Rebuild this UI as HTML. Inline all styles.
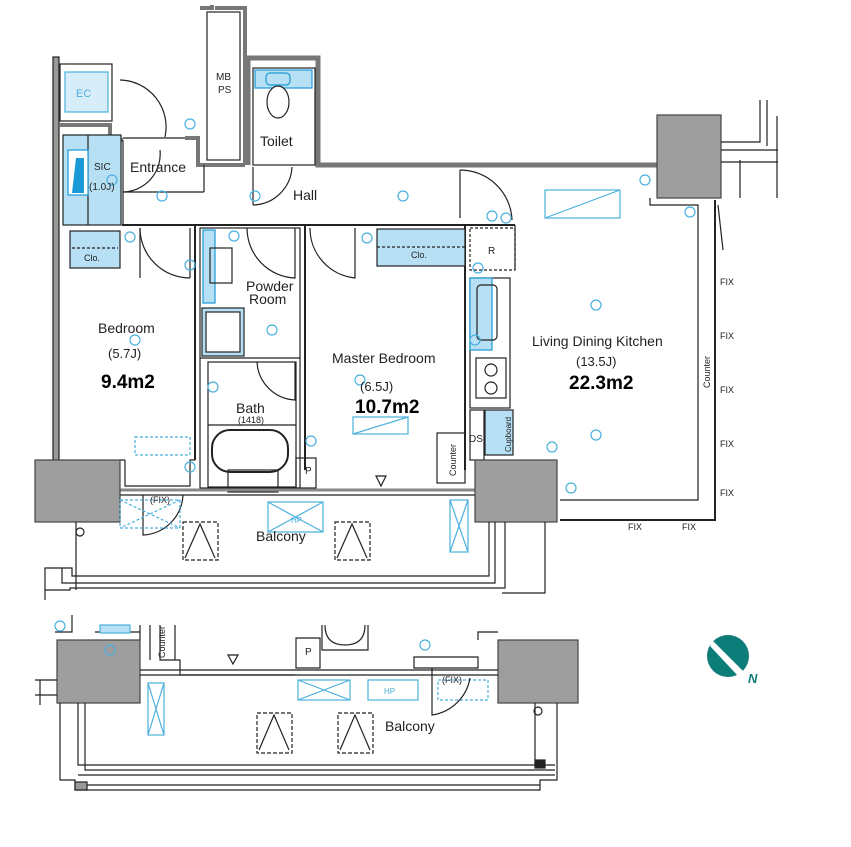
<!DOCTYPE html>
<html><head><meta charset="utf-8"><style>
html,body{margin:0;padding:0;background:#fff;}
svg{display:block;}
text{font-family:"Liberation Sans",sans-serif;fill:#222;}
</style></head><body>
<svg width="851" height="847" viewBox="0 0 851 847" xmlns="http://www.w3.org/2000/svg">
<g fill="none" stroke="#222" stroke-width="1.2">
<!-- outer left wall -->
<rect x="53" y="57" width="6" height="410" fill="#999" stroke="#222"/>
<!-- EC -->
<rect x="60" y="64" width="52" height="57"/>
<rect x="65" y="72" width="43" height="40" fill="#d7eef8" stroke="#4bb0dd"/>
<!-- entrance top wall -->
<path d="M59 125 H110 V140 H123" stroke-width="4" stroke="#777"/>
<line x1="123" y1="138" x2="185" y2="138"/>
<path d="M185 138 H198 V165 H245" stroke-width="4" stroke="#777"/>
<!-- MB PS -->
<path d="M200 8 H212 V5 M245 165 V8 H215" stroke-width="4" stroke="#777"/>
<rect x="207" y="12" width="33" height="148"/>
<!-- Toilet -->
<path d="M248 165 V58 H318 V165 H658" stroke-width="5" stroke="#777"/>
<rect x="253" y="68" width="62" height="97"/>
<rect x="255" y="70" width="57" height="18" fill="#b8e0f4" stroke="#1a9ad6"/>
<ellipse cx="278" cy="102" rx="11" ry="16" fill="#fff"/>
<rect x="266" y="73" width="24" height="12" rx="4" fill="#b8e0f4" stroke="#1a9ad6"/>
<!-- right column -->
<rect x="657" y="115" width="64" height="83" fill="#9e9e9e" stroke="#444"/>
<path d="M721 162 H778 M721 150 H778 M721 142 H760 V100 M767 100 V146 M777 116 V198 M740 198 V160"/>
<!-- SIC -->
<rect x="63" y="135" width="58" height="90" fill="#b8e0f4" stroke="#222"/>
<line x1="88" y1="135" x2="88" y2="225"/>
<rect x="68" y="150" width="20" height="45" fill="#fff" stroke="#1a9ad6"/>
<polygon points="76,158 84,158 84,193 72,193" fill="#1a9ad6" stroke="none"/>
<!-- Clo left -->
<rect x="70" y="231" width="50" height="37" fill="#b8e0f4"/>
<line x1="72" y1="248" x2="118" y2="248" stroke-dasharray="3,2"/>
<!-- hall lower wall -->
<line x1="122" y1="225" x2="515" y2="225" stroke-width="2"/>
<line x1="123" y1="140" x2="123" y2="225"/>
<line x1="123" y1="192" x2="204" y2="192"/>
<line x1="204" y1="165" x2="204" y2="192"/>
<!-- Entrance door arc -->
<path d="M120 80 A47 47 0 0 1 165 137"/>
<path d="M123 192 A38 38 0 0 0 160 150"/>
<!-- hall toilet door -->
<line x1="253" y1="167" x2="253" y2="205"/>
<path d="M253 205 A40 40 0 0 0 292 167"/>
<!-- Bedroom -->
<line x1="195" y1="225" x2="195" y2="460" stroke-width="2"/>
<line x1="140" y1="228" x2="140" y2="278"/>
<path d="M140 228 A50 50 0 0 0 190 278"/>
<line x1="190" y1="228" x2="190" y2="278"/>
<!-- powder / bath column -->
<rect x="200" y="228" width="100" height="260"/>
<rect x="203" y="230" width="12" height="73" fill="#b8e0f4" stroke="#1a9ad6"/>
<rect x="210" y="248" width="22" height="35"/>
<rect x="202" y="308" width="42" height="48" fill="#b8e0f4"/>
<rect x="206" y="312" width="34" height="40" fill="#fff"/>
<line x1="200" y1="358" x2="300" y2="358"/>
<path d="M247 228 A50 50 0 0 0 295 278 V228"/>
<rect x="208" y="362" width="88" height="125"/>
<line x1="208" y1="425" x2="296" y2="425"/>
<rect x="212" y="430" width="76" height="42" rx="18" stroke-width="2"/>
<path d="M257 362 A40 40 0 0 0 295 400 V362"/>
<rect x="228" y="470" width="50" height="22"/>
<rect x="296" y="458" width="20" height="30"/>
<!-- Master bedroom -->
<line x1="305" y1="225" x2="305" y2="470" stroke-width="2"/>
<line x1="465" y1="225" x2="465" y2="470" stroke-width="2"/>
<path d="M310 228 A50 50 0 0 0 355 278 V228"/>
<rect x="377" y="229" width="88" height="37" fill="#b8e0f4"/>
<line x1="377" y1="247" x2="465" y2="247" stroke-dasharray="3,2"/>
<rect x="437" y="433" width="28" height="50"/>
<!-- kitchen column -->
<rect x="470" y="228" width="45" height="42" stroke-dasharray="3,2"/>
<rect x="470" y="278" width="40" height="130"/>
<rect x="470" y="278" width="22" height="72" fill="#b8e0f4" stroke="#1a9ad6"/>
<rect x="477" y="285" width="20" height="55" rx="4"/>
<rect x="476" y="358" width="30" height="40"/>
<circle cx="491" cy="370" r="6"/><circle cx="491" cy="388" r="6"/>
<rect x="485" y="410" width="28" height="45" fill="#b8e0f4"/>
<rect x="470" y="410" width="14" height="50"/>
<!-- LDK -->
<line x1="515" y1="225" x2="515" y2="270"/>
<line x1="460" y1="170" x2="460" y2="218"/>
<path d="M460 170 A52 52 0 0 1 512 220"/>
<path d="M650 198 V205 H698 V500 H560" />
<path d="M715 200 V520 H560" stroke-width="2"/>
<line x1="718" y1="205" x2="723" y2="250"/>
<!-- bottom wall -->
<line x1="118" y1="490" x2="475" y2="490" stroke-width="3" stroke="#888"/>
<line x1="118" y1="495" x2="475" y2="495"/>
<path d="M118 460 V490 M120 460 H125"/>
<path d="M125 460 V486 H190 V460 H195"/>
<!-- gray columns -->
<rect x="35" y="460" width="85" height="62" fill="#9e9e9e" stroke="#444"/>
<rect x="475" y="460" width="82" height="62" fill="#9e9e9e" stroke="#444"/>
<!-- balcony -->
<path d="M143 495 V535 A42 42 0 0 0 183 495"/>
<path d="M45 600 V568 H62 V583 H495 V522 M62 568 H72 V576 H489 V522 M45 590 H70 V588 H505 V522 M545 522 V593 H502"/>
<line x1="76" y1="522" x2="76" y2="590"/>
<circle cx="80" cy="532" r="4"/>
<rect x="120" y="500" width="60" height="28" stroke="#4bb0dd" stroke-dasharray="3,2"/>
<path d="M120 500 L180 528 M180 500 L120 528" stroke="#4bb0dd" stroke-dasharray="3,2"/>
<rect x="268" y="502" width="55" height="30" stroke="#4bb0dd"/>
<path d="M268 502 L323 532 M323 502 L268 532" stroke="#4bb0dd"/>
<rect x="450" y="500" width="18" height="52" stroke="#4bb0dd"/>
<path d="M450 500 L468 552 M468 500 L450 552" stroke="#4bb0dd"/>
<rect x="183" y="522" width="35" height="38" stroke-dasharray="4,2"/>
<path d="M185 558 L200 524 L215 558"/>
<rect x="335" y="522" width="35" height="38" stroke-dasharray="4,2"/>
<path d="M337 558 L352 524 L367 558"/>
<rect x="135" y="437" width="55" height="18" stroke="#4bb0dd" stroke-dasharray="3,2"/>
<rect x="353" y="417" width="55" height="17" stroke="#4bb0dd"/>
<line x1="353" y1="434" x2="408" y2="417" stroke="#4bb0dd"/>
<rect x="545" y="190" width="75" height="28" stroke="#4bb0dd"/>
<line x1="545" y1="218" x2="620" y2="190" stroke="#4bb0dd"/>
<polygon points="376,476 386,476 381,486"/>
<!-- small circles -->
<g stroke="#4bb0dd">
<circle cx="190" cy="124" r="5"/><circle cx="162" cy="196" r="5"/><circle cx="255" cy="196" r="5"/><circle cx="403" cy="196" r="5"/><circle cx="190" cy="265" r="5"/><circle cx="272" cy="330" r="5"/><circle cx="112" cy="180" r="5"/><circle cx="130" cy="237" r="5"/><circle cx="135" cy="340" r="5"/><circle cx="360" cy="380" r="5"/><circle cx="596" cy="305" r="5"/><circle cx="596" cy="435" r="5"/><circle cx="645" cy="180" r="5"/><circle cx="690" cy="212" r="5"/><circle cx="571" cy="488" r="5"/><circle cx="552" cy="447" r="5"/><circle cx="478" cy="268" r="5"/><circle cx="311" cy="441" r="5"/><circle cx="190" cy="467" r="5"/><circle cx="213" cy="387" r="5"/><circle cx="492" cy="216" r="5"/><circle cx="506" cy="218" r="5"/><circle cx="367" cy="238" r="5"/><circle cx="234" cy="236" r="5"/><circle cx="475" cy="340" r="5"/>
</g>
<!-- lower balcony -->
<rect x="57" y="640" width="83" height="63" fill="#9e9e9e" stroke="#444"/>
<rect x="498" y="640" width="80" height="63" fill="#9e9e9e" stroke="#444"/>
<path d="M55 632 H72 V615 M140 632 H95 M140 625 V640 M160 625 V660 H180 V675 H295"/>
<path d="M140 670 H498 M140 675 H498" />
<rect x="100" y="625" width="30" height="8" fill="#b8e0f4" stroke="#4bb0dd"/>
<path d="M296 638 H320 V668 H296 Z"/>
<path d="M322 625 V650 H368 V625 M325 625 Q325 645 345 645 Q365 645 365 625"/>
<path d="M414 657 H478 V668 H414 Z"/>
<path d="M478 640 V632 H498"/>
<path d="M35 680 H57 M35 695 H57 M40 705 V680"/>
<path d="M60 703 V780 H75 V790 H540 V780 H557 V703 M78 703 V765 H555 M85 703 V770 H555"/>
<path d="M78 775 H555 M78 785 H540"/>
<rect x="75" y="782" width="12" height="8" fill="#999"/>
<rect x="535" y="760" width="10" height="8" fill="#222"/>
<line x1="535" y1="703" x2="535" y2="765"/>
<circle cx="538" cy="711" r="4"/>
<rect x="148" y="683" width="16" height="52" stroke="#4bb0dd"/>
<path d="M148 683 L164 735 M164 683 L148 735" stroke="#4bb0dd"/>
<rect x="298" y="680" width="52" height="20" stroke="#4bb0dd"/>
<path d="M298 680 L350 700 M350 680 L298 700" stroke="#4bb0dd"/>
<rect x="368" y="680" width="50" height="20" stroke="#4bb0dd"/>
<rect x="438" y="680" width="50" height="20" stroke="#4bb0dd" stroke-dasharray="3,2"/>
<path d="M432 668 V715 A45 45 0 0 0 470 678"/>
<rect x="257" y="713" width="35" height="40" stroke-dasharray="4,2"/>
<path d="M259 750 L274 715 L289 750"/>
<rect x="338" y="713" width="35" height="40" stroke-dasharray="4,2"/>
<path d="M340 750 L355 715 L370 750"/>
<polygon points="228,655 238,655 233,664"/>
<line x1="150" y1="625" x2="150" y2="660"/>
<line x1="175" y1="625" x2="175" y2="660"/>
<g stroke="#4bb0dd"><circle cx="60" cy="626" r="5"/><circle cx="110" cy="650" r="5"/><circle cx="425" cy="645" r="5"/></g>
</g>
<!-- compass -->
<circle cx="728" cy="656" r="21" fill="#0d7d7a"/>
<polygon points="712,640 744,672 738,676 710,646" fill="#fff"/>
<text x="748" y="683" font-size="13" font-weight="bold" font-style="italic" fill="#0d7d7a" style="fill:#0d7d7a">N</text>
<!-- labels -->
<text x="76" y="97" font-size="11" style="fill:#4bb0dd">EC</text>
<text x="216" y="80" font-size="10">MB</text>
<text x="218" y="93" font-size="10">PS</text>
<text x="260" y="146" font-size="14">Toilet</text>
<text x="130" y="172" font-size="14">Entrance</text>
<text x="94" y="170" font-size="10">SIC</text>
<text x="89" y="190" font-size="10">(1.0J)</text>
<text x="293" y="200" font-size="14">Hall</text>
<text x="84" y="261" font-size="9">Clo.</text>
<text x="411" y="258" font-size="9">Clo.</text>
<text x="488" y="254" font-size="10">R</text>
<text x="246" y="291" font-size="14">Powder</text>
<text x="249" y="304" font-size="14">Room</text>
<text x="98" y="333" font-size="14">Bedroom</text>
<text x="108" y="358" font-size="13">(5.7J)</text>
<text x="101" y="388" font-size="19" font-weight="bold" style="fill:#000">9.4m2</text>
<text x="332" y="363" font-size="14">Master Bedroom</text>
<text x="360" y="391" font-size="13">(6.5J)</text>
<text x="355" y="413" font-size="19" font-weight="bold" style="fill:#000">10.7m2</text>
<text x="236" y="413" font-size="14">Bath</text>
<text x="238" y="423" font-size="9">(1418)</text>
<text x="532" y="346" font-size="14">Living Dining Kitchen</text>
<text x="576" y="366" font-size="13">(13.5J)</text>
<text x="569" y="389" font-size="19" font-weight="bold" style="fill:#000">22.3m2</text>
<text x="469" y="442" font-size="10">DS</text>
<text x="305" y="474" font-size="10">P</text>
<text x="305" y="655" font-size="10">P</text>
<text x="720" y="285" font-size="9">FIX</text>
<text x="720" y="339" font-size="9">FIX</text>
<text x="720" y="393" font-size="9">FIX</text>
<text x="720" y="447" font-size="9">FIX</text>
<text x="720" y="496" font-size="9">FIX</text>
<text x="628" y="530" font-size="9">FIX</text>
<text x="682" y="530" font-size="9">FIX</text>
<text x="150" y="503" font-size="9">(FIX)</text>
<text x="442" y="683" font-size="9">(FIX)</text>
<text x="291" y="523" font-size="8" style="fill:#4bb0dd">HP</text>
<text x="384" y="694" font-size="8" style="fill:#4bb0dd">HP</text>
<text x="256" y="541" font-size="14">Balcony</text>
<text x="385" y="731" font-size="14">Balcony</text>
<text transform="translate(710,388) rotate(-90)" font-size="9">Counter</text>
<text transform="translate(456,476) rotate(-90)" font-size="9">Counter</text>
<text transform="translate(511,452) rotate(-90)" font-size="8">Cupboard</text>
<text transform="translate(165,658) rotate(-90)" font-size="9">Counter</text>
</svg>
</body></html>
